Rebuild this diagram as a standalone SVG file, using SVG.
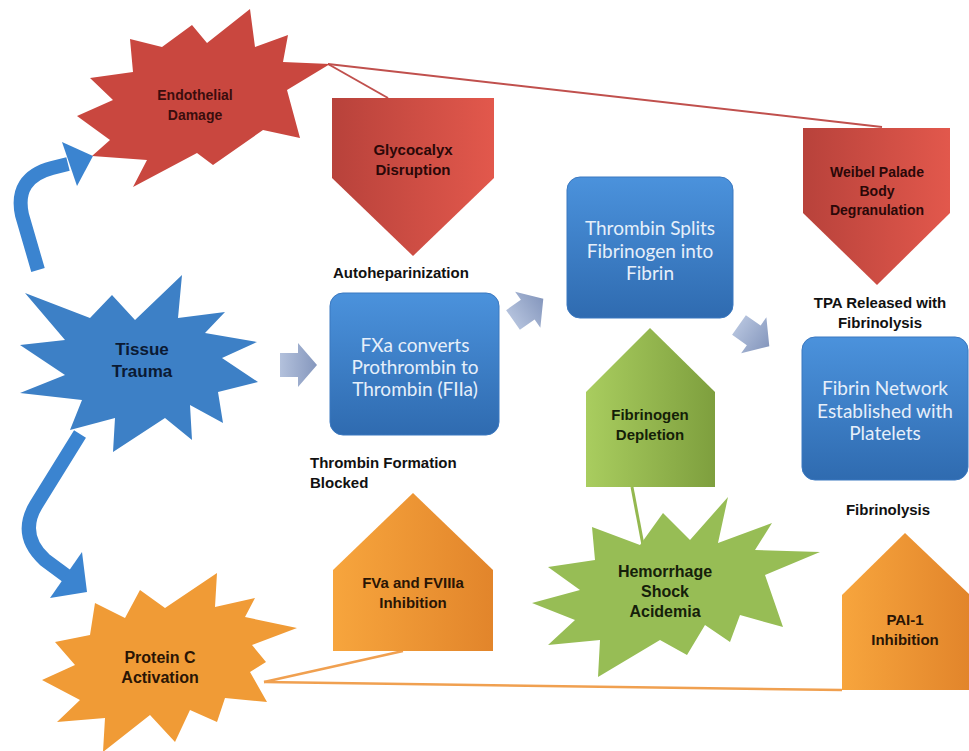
<svg xmlns="http://www.w3.org/2000/svg" width="969" height="751" viewBox="0 0 969 751">
<defs>
<linearGradient id="gRed" x1="0" y1="0" x2="1" y2="0"><stop offset="0" stop-color="#b8423b"/><stop offset="1" stop-color="#e2584c"/></linearGradient>
<linearGradient id="gOr" x1="0" y1="0" x2="1" y2="0"><stop offset="0" stop-color="#f7a53d"/><stop offset="1" stop-color="#e2852b"/></linearGradient>
<linearGradient id="gGr" x1="0" y1="0" x2="1" y2="0"><stop offset="0" stop-color="#a9cd5f"/><stop offset="1" stop-color="#7e9f3e"/></linearGradient>
<linearGradient id="gBlue" x1="0" y1="0" x2="0" y2="1"><stop offset="0" stop-color="#4b92dc"/><stop offset="1" stop-color="#2f6bb0"/></linearGradient>
<linearGradient id="gArr" x1="0" y1="0" x2="1" y2="0"><stop offset="0" stop-color="#b3c1dc"/><stop offset="1" stop-color="#8597bd"/></linearGradient>
<path id="blk" d="M0,-12 H18 V-22 L37,0 L18,22 V12 H0 Z"/>
</defs>
<style>
.lbl{font-family:"Liberation Sans",Arial,sans-serif;font-weight:bold;font-size:15px;fill:#111}
.star{font-family:"Liberation Sans",Arial,sans-serif;font-weight:bold;text-anchor:middle}
.box{font-family:Lato,"Open Sans",sans-serif;font-size:19px;fill:#e6effa;text-anchor:middle}
.bx{fill:url(#gBlue);stroke:#3a78c0;stroke-width:1}
.ctr{text-anchor:middle}
</style>
<rect width="969" height="751" fill="#ffffff"/>

<g id="connectors">
  <line x1="328" y1="64" x2="388" y2="98" stroke="#c0504d" stroke-width="2"/>
  <line x1="328" y1="64" x2="882" y2="127" stroke="#c0504d" stroke-width="2"/>
  <line x1="632" y1="487" x2="643" y2="545" stroke="#94b84f" stroke-width="3"/>
  <line x1="264" y1="682" x2="403" y2="651" stroke="#f0a050" stroke-width="2.5"/>
  <line x1="264" y1="682" x2="842" y2="690" stroke="#f0a050" stroke-width="2.5"/>
  <path d="M38,270 L22,215 Q14,178 52,168 L68,164" fill="none" stroke="#3b84d0" stroke-width="14"/>
  <polygon points="62,142 93,156 77,186" fill="#3b84d0"/>
  <path d="M80,434 L36,505 Q18,535 45,560 L68,577" fill="none" stroke="#3b84d0" stroke-width="14"/>
  <polygon points="82,552 50,598 87,592" fill="#3b84d0"/>
  <use href="#blk" transform="translate(280,365)" fill="url(#gArr)"/>
  <use href="#blk" transform="translate(513,320) rotate(-35)" fill="url(#gArr)"/>
  <use href="#blk" transform="translate(739,325) rotate(35)" fill="url(#gArr)"/>
</g>

<g id="endothelial">
  <polygon points="250,9 255,47 288,35 283,62 330,64 287,90 300,138 263,130 213,165 197,153 133,187 147,160 92,156 110,140 77,116 113,100 90,78 133,72 130,39 162,47 192,25 207,43" fill="#c9473f"/>
  <text class="star" font-size="14" fill="#3a0d0d"><tspan x="195" y="100">Endothelial</tspan><tspan x="195" y="120">Damage</tspan></text>
</g>

<g id="tissue">
  <polygon points="182,275 178,318 225,312 205,333 257,342 222,358 258,382 218,392 223,423 190,405 192,440 165,418 113,452 115,418 70,430 82,400 20,393 65,375 20,345 65,340 25,293 90,318 112,295 135,320" fill="#3d80c6"/>
  <text class="star" font-size="17" fill="#0b1a33"><tspan x="142" y="355">Tissue</tspan><tspan x="142" y="377">Trauma</tspan></text>
</g>

<g id="proteinc">
  <polygon points="217,573 215,607 255,598 245,617 297,628 252,645 266,662 250,672 267,702 225,698 217,722 190,710 175,742 150,715 103,752 105,718 57,722 80,700 42,680 75,665 55,642 90,635 95,603 125,618 140,590 165,608" fill="#f09b36"/>
  <text class="star" font-size="16" fill="#2a1505"><tspan x="160" y="663">Protein C</tspan><tspan x="160" y="683">Activation</tspan></text>
</g>

<g id="hemorrhage">
  <polygon points="728,497 718,543 772,523 755,550 820,552 765,575 783,627 740,615 730,642 705,625 687,655 660,640 598,677 600,640 548,645 575,620 532,603 580,590 548,567 595,560 592,527 640,545 663,513 690,540" fill="#97bd55"/>
  <text class="star" font-size="16" fill="#15200a"><tspan x="665" y="577">Hemorrhage</tspan><tspan x="665" y="597">Shock</tspan><tspan x="665" y="617">Acidemia</tspan></text>
</g>

<g id="glycocalyx">
  <polygon points="332,98 494,98 494,178 413,256 332,178" fill="url(#gRed)"/>
  <text class="star" font-size="15" fill="#2a0808"><tspan x="413" y="155">Glycocalyx</tspan><tspan x="413" y="175">Disruption</tspan></text>
</g>

<g id="weibel">
  <polygon points="803,128 950,128 950,213 877,285 803,213" fill="url(#gRed)"/>
  <text class="star" font-size="14" fill="#2a0808"><tspan x="877" y="177">Weibel Palade</tspan><tspan x="877" y="196">Body</tspan><tspan x="877" y="215">Degranulation</tspan></text>
</g>

<g id="fxa">
  <rect class="bx" x="330" y="293" width="169" height="142" rx="13"/>
  <text class="box"><tspan x="415" y="352">FXa converts</tspan><tspan x="415" y="374">Prothrombin to</tspan><tspan x="415" y="396">Thrombin (FIIa)</tspan></text>
</g>

<g id="thrombin">
  <rect class="bx" x="567" y="177" width="166" height="141" rx="13"/>
  <text class="box"><tspan x="650" y="235">Thrombin Splits</tspan><tspan x="650" y="258">Fibrinogen into</tspan><tspan x="650" y="280">Fibrin</tspan></text>
</g>

<g id="fibrinnet">
  <rect class="bx" x="802" y="337" width="166" height="143" rx="13"/>
  <text class="box"><tspan x="885" y="395">Fibrin Network</tspan><tspan x="885" y="418">Established with</tspan><tspan x="885" y="440">Platelets</tspan></text>
</g>

<g id="fibrinogen">
  <polygon points="650,328 715,392 715,487 586,487 586,392" fill="url(#gGr)"/>
  <text class="star" font-size="15" fill="#151f08"><tspan x="650" y="420">Fibrinogen</tspan><tspan x="650" y="440">Depletion</tspan></text>
</g>

<g id="fva">
  <polygon points="413,493 493,570 493,651 333,651 333,570" fill="url(#gOr)"/>
  <text class="star" font-size="15" fill="#2a1505"><tspan x="413" y="588">FVa and FVIIIa</tspan><tspan x="413" y="608">Inhibition</tspan></text>
</g>

<g id="pai1">
  <polygon points="905,533 969,594 969,690 842,690 842,595" fill="url(#gOr)"/>
  <text class="star" font-size="15" fill="#2a1505"><tspan x="905" y="625">PAI-1</tspan><tspan x="905" y="645">Inhibition</tspan></text>
</g>

<g id="labels">
  <text class="lbl" x="333" y="278">Autoheparinization</text>
  <text class="lbl"><tspan x="310" y="468">Thrombin Formation</tspan><tspan x="310" y="488">Blocked</tspan></text>
  <text class="lbl ctr"><tspan x="880" y="308">TPA Released with</tspan><tspan x="880" y="328">Fibrinolysis</tspan></text>
  <text class="lbl ctr" x="888" y="515">Fibrinolysis</text>
</g>
</svg>
